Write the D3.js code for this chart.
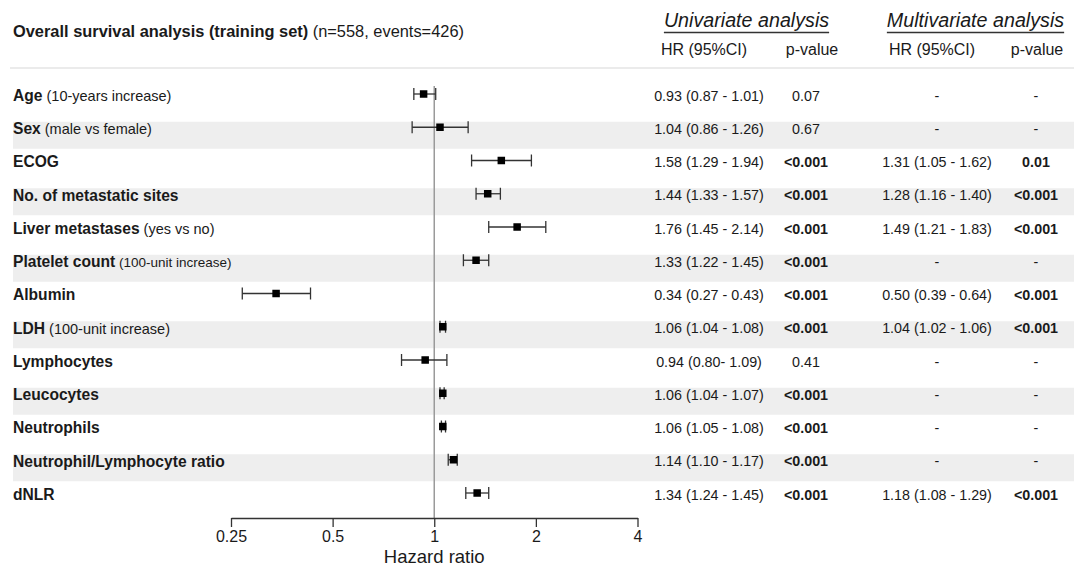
<!DOCTYPE html>
<html>
<head>
<meta charset="utf-8">
<script src="https://cdn.jsdelivr.net/npm/d3@7"></script>
<style>
  body { margin: 0; background: #fff; }
  svg { font-family: "Liberation Sans", Arial, Helvetica, sans-serif; fill: #1a1a1a; }
  .lab { font-weight: bold; font-size: 15.6px; }
  .sub { font-weight: normal; font-size: 14.5px; }
  .cell { font-size: 14.3px; }
  .axis text { font-size: 16px; fill: #1a1a1a; }
  .axis path, .axis line { stroke: #333; stroke-width: 1.3; }
</style>
</head>
<body>
<svg id="chart" width="1074" height="566"></svg>
<script>
// rows, top to bottom
let labels = ['Age', 'Sex', 'ECOG', 'No. of metastatic sites', 'Liver metastases', 'Platelet count',
  'Albumin', 'LDH', 'Lymphocytes', 'Leucocytes', 'Neutrophils', 'Neutrophil/Lymphocyte ratio', 'dNLR']
let subLabels = ['(10-years increase)', '(male vs female)', '', '', '(yes vs no)', '(100-unit increase)',
  '', '(100-unit increase)', '', '', '', '', '']

// univariate hazard ratios with 95% CI (plotted)
let hr = [0.93, 1.04, 1.58, 1.44, 1.76, 1.33, 0.34, 1.06, 0.94, 1.06, 1.06, 1.14, 1.34]
let lo = [0.87, 0.86, 1.29, 1.33, 1.45, 1.22, 0.27, 1.04, 0.80, 1.04, 1.05, 1.10, 1.24]
let hi = [1.01, 1.26, 1.94, 1.57, 2.14, 1.45, 0.43, 1.08, 1.09, 1.07, 1.08, 1.17, 1.45]

// table columns
let uniText = ['0.93 (0.87 - 1.01)', '1.04 (0.86 - 1.26)', '1.58 (1.29 - 1.94)', '1.44 (1.33 - 1.57)',
  '1.76 (1.45 - 2.14)', '1.33 (1.22 - 1.45)', '0.34 (0.27 - 0.43)', '1.06 (1.04 - 1.08)',
  '0.94 (0.80- 1.09)', '1.06 (1.04 - 1.07)', '1.06 (1.05 - 1.08)', '1.14 (1.10 - 1.17)', '1.34 (1.24 - 1.45)']
let uniP = ['0.07', '0.67', '<0.001', '<0.001', '<0.001', '<0.001', '<0.001', '<0.001', '0.41',
  '<0.001', '<0.001', '<0.001', '<0.001']
let multiText = ['-', '-', '1.31 (1.05 - 1.62)', '1.28 (1.16 - 1.40)', '1.49 (1.21 - 1.83)', '-',
  '0.50 (0.39 - 0.64)', '1.04 (1.02 - 1.06)', '-', '-', '-', '-', '1.18 (1.08 - 1.29)']
let multiP = ['-', '-', '0.01', '<0.001', '<0.001', '-', '<0.001', '<0.001', '-', '-', '-', '-', '<0.001']

let ticks = [0.25, 0.5, 1, 2, 4]

let svg = d3.select('#chart')
let idx = d3.range(labels.length)

let x = d3.scaleLog().base(2).domain([0.25, 4]).range([231, 637.5])
let y = d3.scaleLinear().domain([0, labels.length - 1]).range([94, 493])

// shaded bands on every other row
svg.append('g')
  .selectAll('rect')
  .data(idx.filter(i => i % 2 === 1))
  .enter()
  .append('rect')
  .attr('x', 13)
  .attr('y', i => y(i) - 5.5)
  .attr('width', 1074 - 13)
  .attr('height', 27)
  .attr('fill', '#eeeeee')

// header
let title = svg.append('text').attr('x', 13).attr('y', 31).attr('dy', '0.35em').style('font-size', '16.4px')
title.append('tspan').attr('font-weight', 'bold').text('Overall survival analysis (training set)')
title.append('tspan').text(' (n=558, events=426)')

svg.append('line')
  .attr('x1', 10).attr('x2', 1074).attr('y1', 68).attr('y2', 68)
  .attr('stroke', '#e4e4e4').attr('stroke-width', 1.5)

let groups = [{ name: 'Univariate analysis', cx: 746.5, hr: 704, p: 812 },
  { name: 'Multivariate analysis', cx: 975.5, hr: 932, p: 1037 }]

groups.forEach(g => {
  let t = svg.append('text')
    .attr('x', g.cx).attr('y', 20).attr('dy', '0.35em')
    .attr('text-anchor', 'middle')
    .style('font-size', '19.7px').style('font-style', 'italic')
    .text(g.name)
  let w = t.node().getComputedTextLength()
  svg.append('line')
    .attr('x1', g.cx - w / 2).attr('x2', g.cx + w / 2)
    .attr('y1', 32.5).attr('y2', 32.5)
    .attr('stroke', '#333').attr('stroke-width', 1.3)
  svg.append('text').attr('x', g.hr).attr('y', 49).attr('dy', '0.35em')
    .attr('text-anchor', 'middle').style('font-size', '16px').text('HR (95%CI)')
  svg.append('text').attr('x', g.p).attr('y', 49).attr('dy', '0.35em')
    .attr('text-anchor', 'middle').style('font-size', '16px').text('p-value')
})

// row labels
let lab = svg.append('g')
  .selectAll('text')
  .data(idx)
  .enter()
  .append('text')
  .attr('class', 'lab')
  .attr('x', 13)
  .attr('y', i => y(i) + 1.5)
  .attr('dy', '0.35em')
lab.append('tspan').text(i => labels[i])
lab.append('tspan')
  .attr('class', 'sub')
  .style('font-size', i => i === 5 ? '13.5px' : null)
  .text(i => subLabels[i] ? ' ' + subLabels[i] : '')

// table cells
let sig = p => p !== '-' && (p.startsWith('<') || +p < 0.05)
let cols = [
  { v: uniText, cx: 709, bold: () => false },
  { v: uniP, cx: 806, bold: sig },
  { v: multiText, cx: 937, bold: () => false },
  { v: multiP, cx: 1036, bold: sig }
]
cols.forEach(c => {
  svg.append('g')
    .selectAll('text')
    .data(idx)
    .enter()
    .append('text')
    .attr('class', 'cell')
    .attr('x', c.cx)
    .attr('y', i => y(i) + 1.5)
    .attr('dy', '0.35em')
    .attr('text-anchor', 'middle')
    .attr('font-weight', i => c.bold(c.v[i]) ? 'bold' : 'normal')
    .text(i => c.v[i])
})

// reference line at HR = 1
svg.append('line')
  .attr('x1', x(1)).attr('x2', x(1))
  .attr('y1', 86).attr('y2', 518)
  .attr('stroke', '#9a9a9a').attr('stroke-width', 1.5)

// error bars
let bars = svg.append('g').attr('stroke', '#333').attr('stroke-width', 1.3)
bars.selectAll('.ci')
  .data(idx)
  .enter()
  .append('line')
  .attr('x1', i => x(lo[i])).attr('x2', i => x(hi[i]))
  .attr('y1', i => y(i)).attr('y2', i => y(i))
bars.selectAll('.capl')
  .data(idx)
  .enter()
  .append('line')
  .attr('x1', i => x(lo[i])).attr('x2', i => x(lo[i]))
  .attr('y1', i => y(i) - 6).attr('y2', i => y(i) + 6)
bars.selectAll('.caph')
  .data(idx)
  .enter()
  .append('line')
  .attr('x1', i => x(hi[i])).attr('x2', i => x(hi[i]))
  .attr('y1', i => y(i) - 6).attr('y2', i => y(i) + 6)

svg.append('g')
  .selectAll('rect')
  .data(idx)
  .enter()
  .append('rect')
  .attr('x', i => x(hr[i]) - 3.75)
  .attr('y', i => y(i) - 3.75)
  .attr('width', 7.5)
  .attr('height', 7.5)
  .attr('fill', '#000')

// x axis
svg.append('g')
  .attr('class', 'axis')
  .attr('transform', 'translate(0,518)')
  .call(d3.axisBottom(x).tickValues(ticks).tickFormat(d => d).tickSize(9).tickSizeOuter(0).tickPadding(4))

svg.append('text')
  .attr('x', x(1))
  .attr('y', 557)
  .attr('dy', '0.35em')
  .attr('text-anchor', 'middle')
  .style('font-size', '18.5px')
  .text('Hazard ratio')
</script>
</body>
</html>
